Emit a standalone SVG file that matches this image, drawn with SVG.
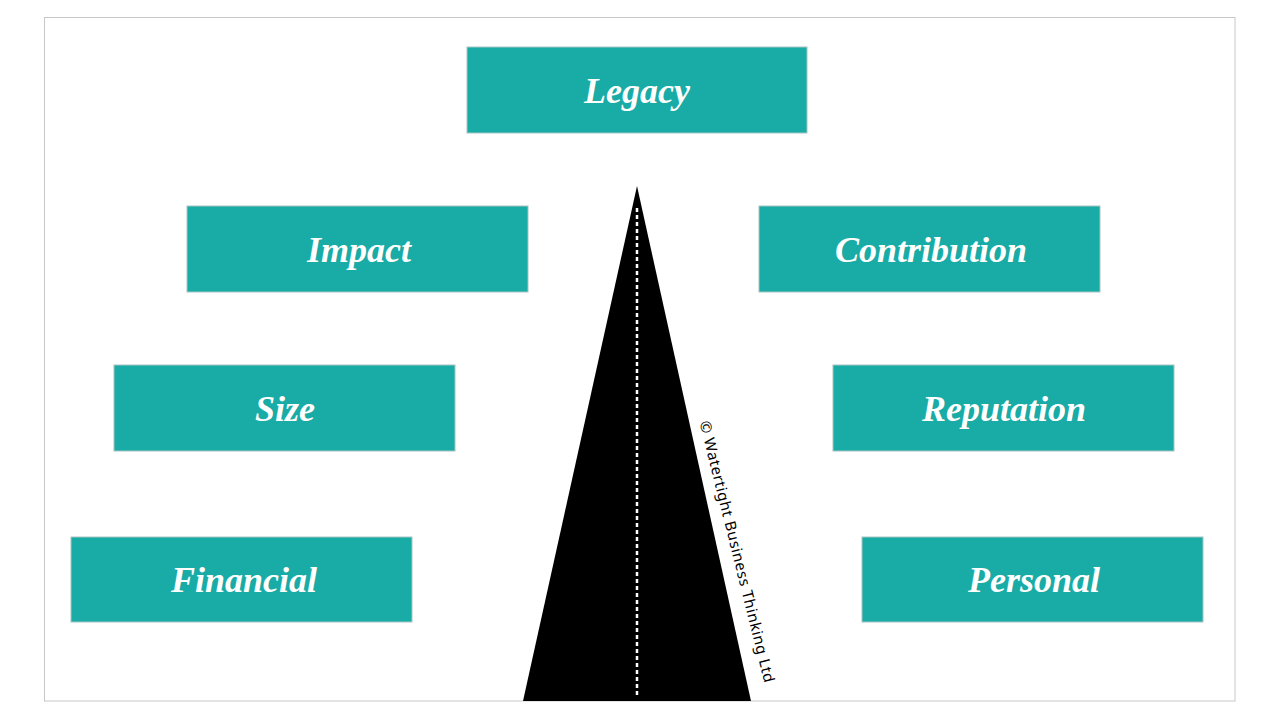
<svg xmlns="http://www.w3.org/2000/svg" width="1280" height="720" viewBox="0 0 1280 720">
<style>
.box{fill:#19aba5;stroke:#a8c4c2;stroke-width:1}
.lbl{font-family:"Liberation Serif",serif;font-style:italic;font-weight:bold;font-size:36px;fill:#ffffff;text-anchor:middle}
.copy{font-family:"Noto Sans",sans-serif;font-size:15px;letter-spacing:0.6px;fill:#000000;text-anchor:middle}
</style>
<rect x="0" y="0" width="1280" height="720" fill="#ffffff"/>
<rect x="44.5" y="17.5" width="1190.5" height="683.5" fill="none" stroke="#c8c8c8" stroke-width="1"/>
<g id="road">
<polygon points="637,186 751,701 523,701" fill="#000000"/>
<line x1="637" y1="208" x2="637" y2="697" stroke="#ffffff" stroke-width="2.5" stroke-dasharray="4,3"/>
</g>
<g id="connectors"></g>
<g id="legacy"><rect class="box" x="467" y="47" width="340" height="86"/><text class="lbl" x="637" y="103">Legacy</text></g>
<g id="impact"><rect class="box" x="187" y="206" width="341" height="86"/><text class="lbl" x="359" y="262">Impact</text></g>
<g id="contribution"><rect class="box" x="759" y="206" width="341" height="86"/><text class="lbl" x="931" y="262">Contribution</text></g>
<g id="size"><rect class="box" x="114" y="365" width="341" height="86"/><text class="lbl" x="285" y="421">Size</text></g>
<g id="reputation"><rect class="box" x="833" y="365" width="341" height="86"/><text class="lbl" x="1004" y="421">Reputation</text></g>
<g id="financial"><rect class="box" x="71" y="537" width="341" height="85"/><text class="lbl" x="244" y="592">Financial</text></g>
<g id="personal"><rect class="box" x="862" y="537" width="341" height="85"/><text class="lbl" x="1034" y="592">Personal</text></g>
<g id="copyright"><text class="copy" transform="translate(732,553) rotate(76)">© Watertight Business Thinking Ltd</text></g>
</svg>
